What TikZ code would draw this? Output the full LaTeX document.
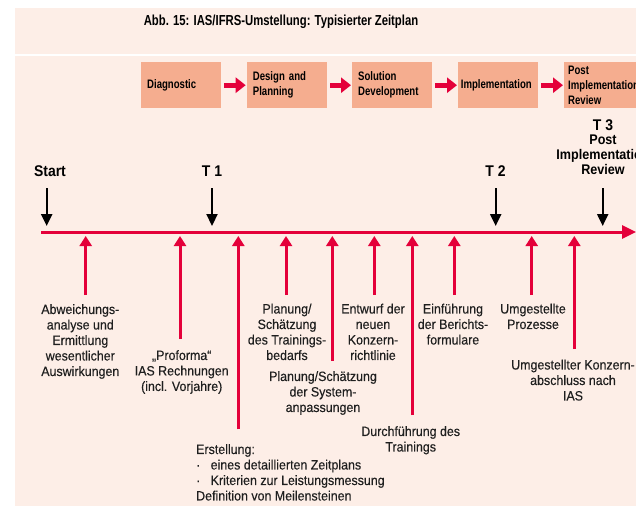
\documentclass[tikz,border=0pt]{standalone}
\usepackage{fontspec}
\setmainfont{Liberation Sans}[FakeStretch=0.92, FakeBold=0.3]
\newfontfamily\hfont{Liberation Sans}[FakeStretch=0.78]
\newfontfamily\tfont{Liberation Sans}[FakeStretch=0.9]
\usetikzlibrary{arrows.meta}
\definecolor{bgpink}{HTML}{FDEEE7}
\definecolor{boxc}{HTML}{F5AD8F}
\definecolor{tred}{HTML}{E4003A}
\begin{document}
\begin{tikzpicture}[x=1pt,y=-1pt,
  lab/.style={font=\fontsize{13.5}{15.5}\selectfont, align=center, inner sep=0pt, anchor=north, text=black!88},
  phase/.style={rectangle, fill=boxc, minimum height=46pt, inner ysep=0pt, inner xsep=6pt, text width=68pt, align=left,
     font=\hfont\bfseries\fontsize{12.3}{15}\selectfont, anchor=north west},
  boxarrow/.style={tred, line width=5pt, -{Triangle[length=10pt,width=15pt]}},
  uparrow/.style={tred, line width=3pt, -{Triangle[length=10pt,width=12pt]}},
  downarrow/.style={black, line width=2.2pt, -{Triangle[length=12pt,width=11pt]}},
  tlab/.style={font=\tfont\bfseries\fontsize{15.5}{15.5}\selectfont, align=center, inner sep=0pt, text=black}
]
\useasboundingbox (0,0) rectangle (636,506);
\fill[bgpink] (15,8) rectangle (636,506);
\fill[white] (15,54) rectangle (636,56);
\node[font=\hfont\bfseries\fontsize{14.5}{17}\selectfont, inner sep=0pt] (title) at (281,22) {Abb. 15: IAS/IFRS-Umstellung: Typisierter Zeitplan};

% phases
\node[phase] (p1) at (141,62) {Diagnostic};
\node[phase] (p2) at (246.7,62) {Design and\\Planning};
\node[phase] (p3) at (352,62) {Solution\\Development};
\node[phase, inner xsep=2.7pt, text width=74.6pt] (p4) at (458,62) {Implementation};
\node[phase, inner xsep=4pt, text width=72pt] (p5) at (564,62) {Post\\Implementation\\Review};
\draw[boxarrow] ([xshift=3pt]p1.east) -- ([xshift=-1pt]p2.west);
\draw[boxarrow] ([xshift=3pt]p2.east) -- ([xshift=-1pt]p3.west);
\draw[boxarrow] ([xshift=3pt]p3.east) -- ([xshift=-1pt]p4.west);
\draw[boxarrow] ([xshift=3pt]p4.east) -- ([xshift=-1pt]p5.west);

% timeline
\coordinate (tl0) at (41,232);
\coordinate (tl1) at (636,232);
\draw[tred, line width=3pt, -{Triangle[length=14pt,width=13pt]}] (tl0) -- (tl1);

% milestones
\node[tlab] (start) at (50,170.7) {Start};
\node[tlab] (t1) at (212,170.7) {T 1};
\node[tlab] (t2) at (495.5,170.7) {T 2};
\node[tlab] (t3) at (603,125) {T 3};
\node[tlab, font=\tfont\bfseries\fontsize{14}{15}\selectfont, anchor=north] (t3b) at (603,134.5) {Post\\Implementation\\Review};
\foreach \n/\x in {s/46.7, a/212, b/495.7, c/602.7}{
  \coordinate (d\n top) at (\x,188);
  \coordinate (d\n tip) at (\x,226);
  \draw[downarrow] (d\n top) -- (d\n tip);
}

% up arrows
\foreach \n/\x/\yb in {1/85.7/295, 2/180/339, 3/238.3/429.3, 4/286/295, 5/332.3/361, 6/374.3/295, 7/412.3/415, 8/454.3/295, 9/531.7/295, 10/574.3/349}{
  \coordinate (u\n bot) at (\x,\yb);
  \coordinate (u\n tip) at (\x,236);
  \draw[uparrow] (u\n bot) -- (u\n tip);
}

% labels
\node[lab] (l1) at (80.3,304) {Abweichungs-\\analyse und\\Ermittlung\\wesentlicher\\Auswirkungen};
\node[lab] (l2) at (181.7,350) {„Proforma“\\IAS Rechnungen\\(incl. Vorjahre)};
\node[lab, anchor=north west, align=left] (l3) at (196,444) {Erstellung:\\\makebox[14.5pt][l]{·}eines detaillierten Zeitplans\\\makebox[14.5pt][l]{·}Kriterien zur Leistungsmessung\\Definition von Meilensteinen};
\node[lab] (l4) at (287,303.5) {Planung/\\Schätzung\\des Trainings-\\bedarfs};
\node[lab] (l5) at (323,371) {Planung/Schätzung\\der System-\\anpassungen};
\node[lab] (l6) at (373,303.5) {Entwurf der\\neuen\\Konzern-\\richtlinie};
\node[lab] (l7) at (453,303.5) {Einführung\\der Berichts-\\formulare};
\node[lab] (l8) at (533,303.5) {Umgestellte\\Prozesse};
\node[lab] (l9) at (410.7,426) {Durchführung des\\Trainings};
\node[lab] (l10) at (573,359.5) {Umgestellter Konzern-\\abschluss nach\\IAS};
\end{tikzpicture}
\end{document}
